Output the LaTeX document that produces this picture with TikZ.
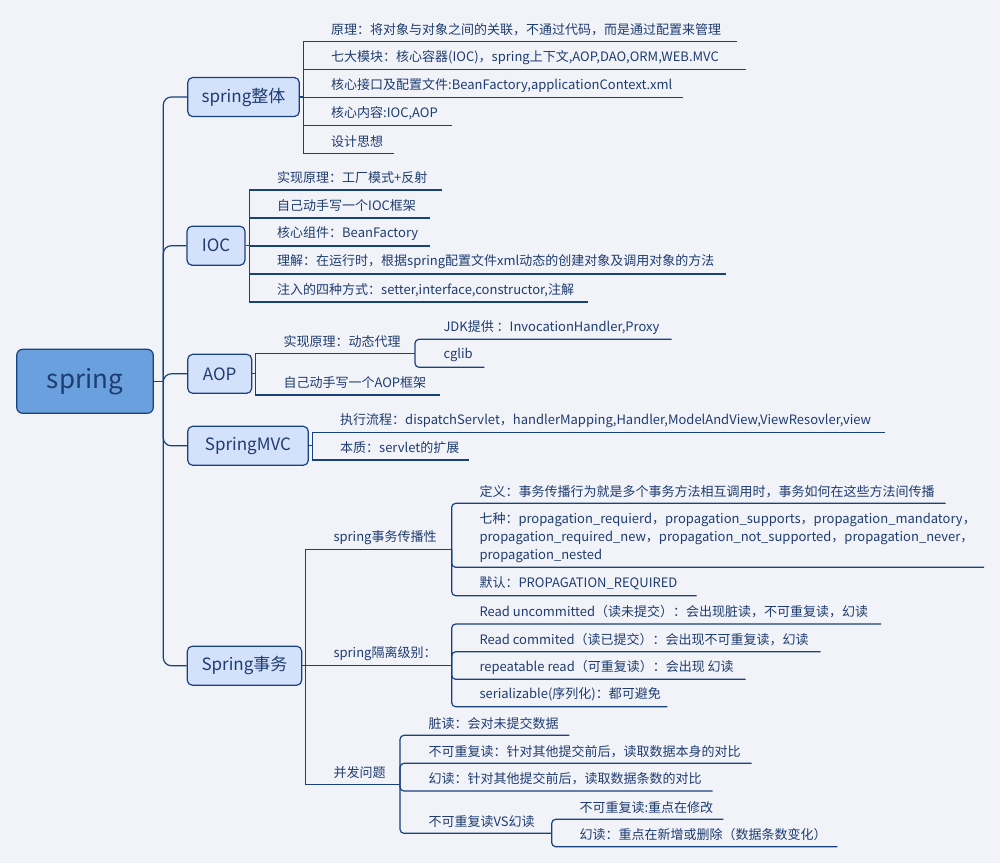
\documentclass[tikz,border=0pt]{standalone}
\usepackage{fontspec}
\setmainfont{Noto Sans CJK SC}
\definecolor{bg}{HTML}{F2F3F9}
\definecolor{ln}{HTML}{17427F}
\definecolor{tx}{HTML}{1E3C70}
\definecolor{rootfill}{HTML}{6AA0DD}
\definecolor{topfill}{HTML}{D3E1FB}
\tikzset{
  conn/.style={draw=ln, line width=1.2pt},
  rootbox/.style={draw=ln, line width=1.2pt, fill=rootfill, rounded corners=6pt, text=tx,
    font=\fontsize{26}{30}\selectfont, inner sep=0pt},
  topic/.style={draw=ln, line width=1.2pt, fill=topfill, rounded corners=5pt, text=tx,
    font=\fontsize{17}{20}\selectfont, inner sep=0pt, minimum height=39pt},
  leaf/.style={anchor=west, inner sep=0pt, text=tx, font=\fontsize{13}{18}\selectfont, align=left},
}
% #1 name, #2 junction coordinate, #3 underline y, #4 underline end x, #5 text x, #6 text
\newcommand\lf[6]{%
  \node[leaf] (#1) at (#5,#3-12) {#6};
  \coordinate (#1e) at (#4,#3);
  \draw[conn] (#2) -- (#2 |- #1e) -- (#1e);}
\begin{document}
\begin{tikzpicture}[x=1pt,y=-1pt]
\path[use as bounding box, fill=bg] (0,0) rectangle (1000,863);

% root and topics
\node[rootbox, minimum width=136.6pt, minimum height=64pt] (root) at (85,381.3) {spring};
\node[topic, minimum width=111.6pt] (t1) at (243.5,97) {spring整体};
\node[topic, minimum width=58pt] (t2) at (216,245.7) {IOC};
\node[topic, minimum width=64pt] (t3) at (219.7,373.8) {AOP};
\node[topic, minimum width=120.6pt] (t4) at (248,445.8) {SpringMVC};
\node[topic, minimum width=114.4pt] (t5) at (244.5,665.7) {Spring事务};

\coordinate (sp) at (163.3,381.3);
\draw[conn] (root.east) -- (sp);
\begin{scope}[rounded corners=8pt]
\foreach \t in {t1,t2,t3,t4,t5} {\draw[conn] (sp) -- (sp |- \t.west) -- (\t.west);}
\end{scope}

% spring整体
\coordinate (g1) at (303.3,97);
\draw[conn] (t1.east) -- (g1);
\lf{a1}{g1}{41.3}{736.7}{331}{原理：将对象与对象之间的关联，不通过代码，而是通过配置来管理}
\lf{a2}{g1}{69.3}{745.7}{331}{七大模块：核心容器(IOC)，spring上下文,AOP,DAO,ORM,WEB.MVC}
\lf{a3}{g1}{97.3}{683}{331}{核心接口及配置文件:BeanFactory,applicationContext.xml}
\lf{a4}{g1}{125.3}{452}{331}{核心内容:IOC,AOP}
\lf{a5}{g1}{153.3}{394}{331}{设计思想}

% IOC
\coordinate (g2) at (249.5,245.7);
\draw[conn] (t2.east) -- (g2);
\lf{b1}{g2}{190}{441.6}{277}{实现原理：工厂模式+反射}
\lf{b2}{g2}{218}{430}{277}{自己动手写一个IOC框架}
\lf{b3}{g2}{246}{430}{277}{核心组件：BeanFactory}
\lf{b4}{g2}{274}{726}{277}{理解：在运行时，根据spring配置文件xml动态的创建对象及调用对象的方法}
\lf{b5}{g2}{302}{588}{277}{注入的四种方式：setter,interface,constructor,注解}

% AOP
\coordinate (g3) at (255.7,373.8);
\draw[conn] (t3.east) -- (g3);
\lf{c1}{g3}{353.3}{415}{283.3}{实现原理：动态代理}
\lf{c2}{g3}{395}{440}{283.3}{自己动手写一个AOP框架}
\begin{scope}[rounded corners=4pt]
\lf{c11}{c1e}{339.3}{671.7}{443.3}{JDK提供 ：InvocationHandler,Proxy}
\lf{c12}{c1e}{367.3}{484.4}{443.3}{cglib}
\end{scope}

% SpringMVC
\coordinate (g4) at (312.7,445.8);
\draw[conn] (t4.east) -- (g4);
\lf{d1}{g4}{432.7}{885}{340}{执行流程：dispatchServlet，handlerMapping,Handler,ModelAndView,ViewResovler,view}
\lf{d2}{g4}{460}{469.3}{340}{本质：servlet的扩展}

% Spring事务
\coordinate (g5) at (305.3,665.7);
\draw[conn] (t5.east) -- (g5);
\lf{e1}{g5}{549.3}{451.7}{333.3}{spring事务传播性}
\lf{e2}{g5}{665.7}{451.7}{333.3}{spring隔离级别：}
\lf{e3}{g5}{784.3}{400}{333.3}{并发问题}

\begin{scope}[rounded corners=4pt]
% 传播性
\lf{f1}{e1e}{503.3}{945.7}{479.3}{定义：事务传播行为就是多个事务方法相互调用时，事务如何在这些方法间传播}
\node[leaf] (f2) at (479.3,537.7) {七种：propagation\_requierd，propagation\_supports，propagation\_mandatory，\\propagation\_required\_new，propagation\_not\_supported，propagation\_never，\\propagation\_nested};
\coordinate (f2e) at (984,567.3);
\draw[conn] (e1e) -- (e1e |- f2e) -- (f2e);
\lf{f3}{e1e}{595.7}{696.7}{479.3}{默认：PROPAGATION\_REQUIRED}
% 隔离级别
\lf{h1}{e2e}{624}{881}{479.3}{Read uncommitted（读未提交）：会出现脏读，不可重复读，幻读}
\lf{h2}{e2e}{651.7}{820.7}{479.3}{Read commited（读已提交）：会出现不可重复读，幻读}
\lf{h3}{e2e}{679.3}{745.7}{479.3}{repeatable read（可重复读）：会出现 幻读}
\lf{h4}{e2e}{706.7}{667.3}{479.3}{serializable(序列化)：都可避免}
% 并发问题
\lf{k1}{e3e}{735.3}{569.3}{428.3}{脏读：会对未提交数据}
\lf{k2}{e3e}{763.3}{751.7}{428.3}{不可重复读：针对其他提交前后，读取数据本身的对比}
\lf{k3}{e3e}{791}{712.7}{428.3}{幻读：针对其他提交前后，读取数据条数的对比}
\lf{k4}{e3e}{833.3}{551.7}{428.3}{不可重复读VS幻读}
\lf{m1}{k4e}{819.3}{723.3}{579.3}{不可重复读:重点在修改}
\lf{m2}{k4e}{846.7}{837.3}{579.3}{幻读：重点在新增或删除（数据条数变化）}
\end{scope}
\end{tikzpicture}
\end{document}
